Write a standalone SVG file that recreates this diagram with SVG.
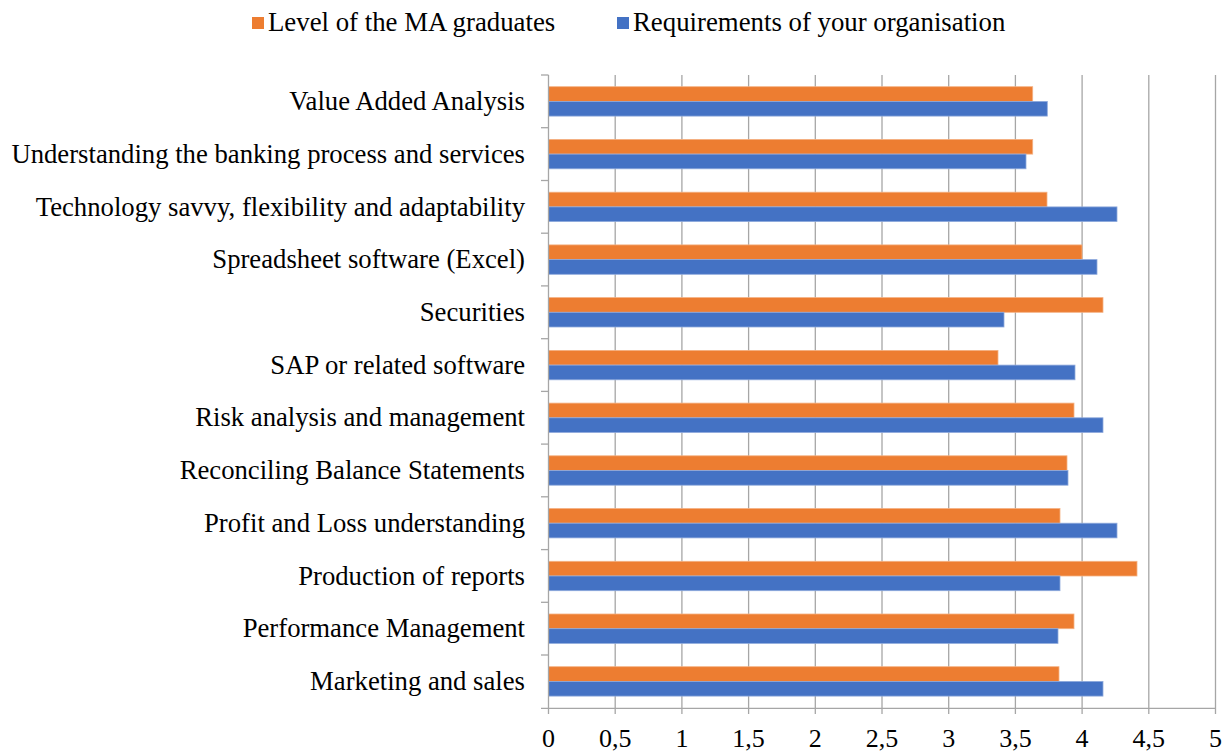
<svg xmlns="http://www.w3.org/2000/svg" width="1223" height="751" viewBox="0 0 1223 751">
<style>
.lbl{font-family:"Liberation Serif","Times New Roman",serif;font-size:26.7px;fill:#000;text-anchor:end}
.tick{font-family:"Liberation Serif","Times New Roman",serif;font-size:26px;fill:#000;text-anchor:middle}
.leg{font-family:"Liberation Serif","Times New Roman",serif;font-size:26.8px;fill:#000}
.grid{stroke:#A6A6A6;stroke-width:1.3}
.o{fill:#ED7D31;stroke:#F4B183;stroke-width:0.8}
.b{fill:#4472C4;stroke:#8FAADC;stroke-width:0.8}
</style>
<rect width="1223" height="751" fill="#fff"/>
<g id="legend">
<rect x="252" y="17" width="12" height="12" fill="#ED7D31"/>
<text class="leg" x="268" y="31">Level of the MA graduates</text>
<rect x="617" y="17" width="12" height="12" fill="#4472C4"/>
<text class="leg" x="633" y="31">Requirements of your organisation</text>
</g>
<g id="grid">
<line class="grid" x1="615.2" y1="75" x2="615.2" y2="714"/>
<line class="grid" x1="681.9" y1="75" x2="681.9" y2="714"/>
<line class="grid" x1="748.6" y1="75" x2="748.6" y2="714"/>
<line class="grid" x1="815.3" y1="75" x2="815.3" y2="714"/>
<line class="grid" x1="882" y1="75" x2="882" y2="714"/>
<line class="grid" x1="948.7" y1="75" x2="948.7" y2="714"/>
<line class="grid" x1="1015.4" y1="75" x2="1015.4" y2="714"/>
<line class="grid" x1="1082.1" y1="75" x2="1082.1" y2="714"/>
<line class="grid" x1="1148.8" y1="75" x2="1148.8" y2="714"/>
<line class="grid" x1="1215.5" y1="75" x2="1215.5" y2="714"/>
</g>
<g id="bars">
<rect class="o" x="548.5" y="86.7" width="484.2" height="14.7"/>
<rect class="b" x="548.5" y="101.4" width="498.8" height="14.7"/>
<rect class="o" x="548.5" y="139.4" width="484.2" height="14.7"/>
<rect class="b" x="548.5" y="154.1" width="477.5" height="14.7"/>
<rect class="o" x="548.5" y="192.2" width="498.5" height="14.7"/>
<rect class="b" x="548.5" y="206.9" width="568.5" height="14.7"/>
<rect class="o" x="548.5" y="244.9" width="533.5" height="14.7"/>
<rect class="b" x="548.5" y="259.6" width="548.5" height="14.7"/>
<rect class="o" x="548.5" y="297.6" width="554.5" height="14.7"/>
<rect class="b" x="548.5" y="312.3" width="455.5" height="14.7"/>
<rect class="o" x="548.5" y="350.4" width="449.5" height="14.7"/>
<rect class="b" x="548.5" y="365.1" width="526.5" height="14.7"/>
<rect class="o" x="548.5" y="403.1" width="525.5" height="14.7"/>
<rect class="b" x="548.5" y="417.8" width="554.5" height="14.7"/>
<rect class="o" x="548.5" y="455.8" width="518.5" height="14.7"/>
<rect class="b" x="548.5" y="470.5" width="519.5" height="14.7"/>
<rect class="o" x="548.5" y="508.5" width="511.5" height="14.7"/>
<rect class="b" x="548.5" y="523.2" width="568.5" height="14.7"/>
<rect class="o" x="548.5" y="561.3" width="588.5" height="14.7"/>
<rect class="b" x="548.5" y="576" width="511.5" height="14.7"/>
<rect class="o" x="548.5" y="614" width="525.5" height="14.7"/>
<rect class="b" x="548.5" y="628.7" width="509.5" height="14.7"/>
<rect class="o" x="548.5" y="666.7" width="510.5" height="14.7"/>
<rect class="b" x="548.5" y="681.4" width="554.5" height="14.7"/>
</g>
<g id="axes" stroke="#A6A6A6" stroke-width="1.3">
<line x1="548.5" y1="75" x2="548.5" y2="714"/>
<line x1="541" y1="708.3" x2="1215.5" y2="708.3"/>
<line x1="541" y1="75" x2="548.5" y2="75"/>
<line x1="541" y1="127.7" x2="548.5" y2="127.7"/>
<line x1="541" y1="180.5" x2="548.5" y2="180.5"/>
<line x1="541" y1="233.2" x2="548.5" y2="233.2"/>
<line x1="541" y1="285.9" x2="548.5" y2="285.9"/>
<line x1="541" y1="338.7" x2="548.5" y2="338.7"/>
<line x1="541" y1="391.4" x2="548.5" y2="391.4"/>
<line x1="541" y1="444.1" x2="548.5" y2="444.1"/>
<line x1="541" y1="496.8" x2="548.5" y2="496.8"/>
<line x1="541" y1="549.6" x2="548.5" y2="549.6"/>
<line x1="541" y1="602.3" x2="548.5" y2="602.3"/>
<line x1="541" y1="655" x2="548.5" y2="655"/>
</g>
<g id="labels">
<text class="lbl" x="525" y="110">Value Added Analysis</text>
<text class="lbl" x="525" y="162.7">Understanding the banking process and services</text>
<text class="lbl" x="525" y="215.5">Technology savvy, flexibility and adaptability</text>
<text class="lbl" x="525" y="268.2">Spreadsheet software (Excel)</text>
<text class="lbl" x="525" y="320.9">Securities</text>
<text class="lbl" x="525" y="373.7">SAP or related software</text>
<text class="lbl" x="525" y="426.4">Risk analysis and management</text>
<text class="lbl" x="525" y="479.1">Reconciling Balance Statements</text>
<text class="lbl" x="525" y="531.8">Profit and Loss understanding</text>
<text class="lbl" x="525" y="584.6">Production of reports</text>
<text class="lbl" x="525" y="637.3">Performance Management</text>
<text class="lbl" x="525" y="690">Marketing and sales</text>
</g>
<g id="ticks">
<text class="tick" x="548.5" y="747">0</text>
<text class="tick" x="615.2" y="747">0,5</text>
<text class="tick" x="681.9" y="747">1</text>
<text class="tick" x="748.6" y="747">1,5</text>
<text class="tick" x="815.3" y="747">2</text>
<text class="tick" x="882" y="747">2,5</text>
<text class="tick" x="948.7" y="747">3</text>
<text class="tick" x="1015.4" y="747">3,5</text>
<text class="tick" x="1082.1" y="747">4</text>
<text class="tick" x="1148.8" y="747">4,5</text>
<text class="tick" x="1215.5" y="747">5</text>
</g>
</svg>
